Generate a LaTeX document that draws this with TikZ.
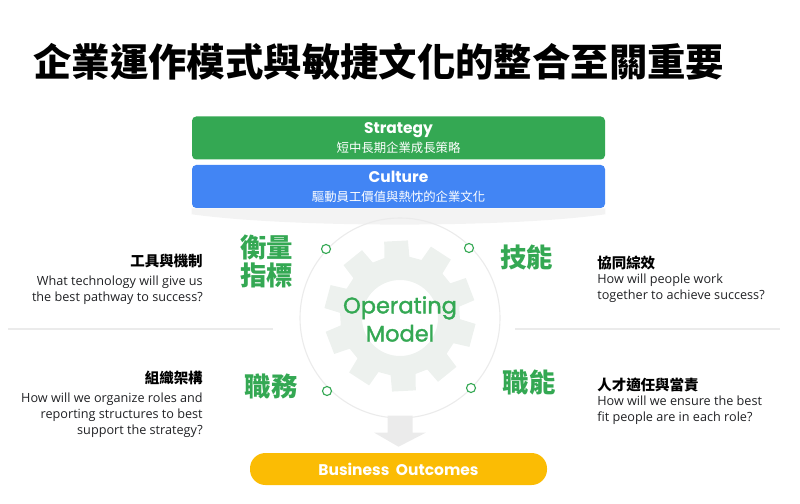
\documentclass[tikz,border=0pt]{standalone}
\usepackage{fontspec}
\setmainfont{Open Sans}
\newfontfamily\pop{Poppins}
\newfontfamily\popm[FakeBold=1.6]{Poppins}
\newfontfamily\cjk{Noto Sans CJK TC}
\usetikzlibrary{calc,positioning}
\definecolor{ggreen}{HTML}{34A853}
\definecolor{gblue}{HTML}{4285F4}
\definecolor{gyellow}{HTML}{FBBC04}
\definecolor{ltgrey}{HTML}{EBEBEB}
\definecolor{geargrey}{HTML}{EDF1EE}
\definecolor{txtgrey}{HTML}{202124}
\def\pxu{0.025cm}
\newcommand{\bandtitle}[1]{{\pop\bfseries\fontsize{11}{13}\selectfont #1}}
\tikzset{%
  band/.style={rectangle, rounded corners=3pt, text=white, align=center,
    minimum width=413*\pxu, minimum height=43*\pxu, inner sep=0pt,
    font=\fontsize{8.8}{13.5}\selectfont},
  head/.style={font=\cjk\bfseries\fontsize{10.3}{12}\selectfont, inner sep=0pt},
  ques/.style={font=\fontsize{9}{11.4}\selectfont, text=txtgrey, inner sep=0pt},
  skill/.style={font=\cjk\bfseries\fontsize{18.8}{19.5}\selectfont, text=ggreen,
    inner sep=0pt, align=center},
  dot/.style={circle, draw=ggreen, fill=white, line width=0.8pt,
    minimum size=9*\pxu, inner sep=0pt},
  sep/.style={draw=ltgrey, line width=1.4pt},
}

\begin{document}
\begin{tikzpicture}[x=0.025cm, y=-0.025cm,
    pill/.style={rectangle, rounded corners=11pt, fill=gyellow, text=white,
      minimum width=297*\pxu, minimum height=32*\pxu, inner sep=0pt,
      font=\pop\bfseries\fontsize{11}{13}\selectfont}]
    \useasboundingbox (0,0) rectangle (800,504);

    \node[font=\cjk\bfseries\fontsize{27.3}{30}\selectfont, anchor=west,
      inner sep=0pt] (title) at (33,62) {企業運作模式與敏捷文化的整合至關重要};

    % top bands
    \node[band, fill=ggreen] (strat) at (398.5,138)
      {\bandtitle{Strategy}\\{\cjk 短中長期企業成長策略}};
    \node[band, fill=gblue] (cult) at (398.5,186.5)
      {\bandtitle{Culture}\\{\cjk 驅動員工價值與熱忱的企業文化}};
    \fill[ltgrey!60] (cult.south west) -- (cult.south east) -- ++(0,6)
      .. controls (510,228) and (290,228) .. ($(cult.south west)+(0,6)$) -- cycle;

    % gear and ring
    \node[circle, draw=ltgrey, line width=0.8pt, minimum size=200*\pxu,
      inner sep=0pt] (ring) at (400,318) {};
    \fill[geargrey, even odd rule] ($(400,316)+(3:60)$)
      \foreach \c in {15,51,...,339} {
        -- ($(400,316)+(\c-12:60)$) -- ($(400,316)+(\c-9:76)$)
        -- ($(400,316)+(\c+9:76)$) -- ($(400,316)+(\c+12:60)$)
      } -- cycle
      (400,318) circle (38);
    \node[font=\popm\fontsize{16}{20}\selectfont, text=ggreen, align=center,
      inner sep=0pt] (opm) at (400,319) {Operating\\Model};

    \foreach \x/\y [count=\i] in {326/249,469/248,327/391,471/388}
      \node[dot] (dot\i) at (\x,\y) {};

    \node[skill] (metric) at (266.5,261.5) {衡量\\指標};
    \node[skill] (skill) at (526.5,258) {技能};
    \node[skill] (duty) at (271,386) {職務};
    \node[skill] (compet) at (529,383) {職能};

    % side texts
    \node[head, anchor=east] (toolhd) at (203,261) {工具與機制};
    \node[ques, anchor=north east, align=right] (toolq) at (203,276)
      {What technology will give us\\the best pathway to success?};
    \node[head, anchor=east] (orghd) at (203,378) {組織架構};
    \node[ques, anchor=north east, align=right] (orgq) at (203,392.5)
      {How will we organize roles and\\reporting structures to best\\support the strategy?};
    \node[head, anchor=west] (synhd) at (597,262.5) {協同綜效};
    \node[ques, anchor=north west, align=left] (synq) at (597,274)
      {How will people work\\together to achieve success?};
    \node[head, anchor=west] (fithd) at (597,385) {人才適任與當責};
    \node[ques, anchor=north west, align=left] (fitq) at (597,396)
      {How will we ensure the best\\fit people are in each role?};

    \draw[sep] (8,329) -- (273,329);
    \draw[sep] (515,329) -- (780,329);

    % outcome
    \node[pill] (outcome) at (398.5,469) {Business\ \ Outcomes};
    \coordinate (atop) at ($(ring.south)+(0,-3)$);
    \fill[ltgrey] ($(atop)+(-12.5,0)$) -- ($(atop)+(12.5,0)$)
      -- ($(atop)+(12.5,17)$) -- ($(atop)+(26,17)$) -- ($(outcome.north)+(0,-6)$)
      -- ($(atop)+(-26,17)$) -- ($(atop)+(-12.5,17)$) -- cycle;
  \end{tikzpicture}
\end{document}
